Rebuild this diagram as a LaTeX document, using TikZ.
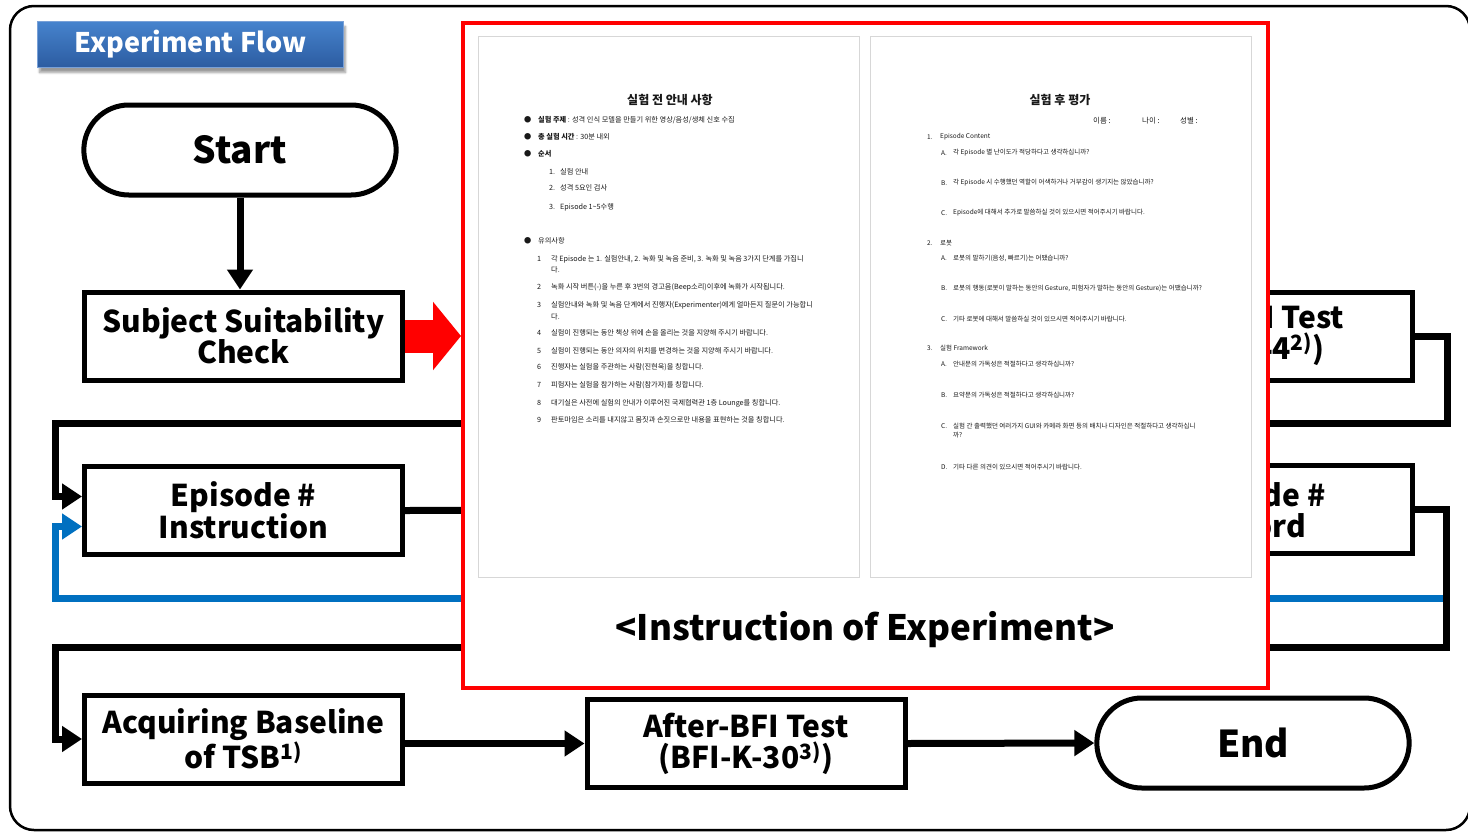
\documentclass[tikz,border=0pt]{standalone}
\usepackage{fontspec}
\setmainfont{Noto Sans CJK KR}
\usetikzlibrary{shapes.misc, arrows.meta, positioning, calc, shadows.blur}
\definecolor{loopblue}{RGB}{0, 112, 192}
\definecolor{titletop}{RGB}{70, 131, 206}
\definecolor{titlebottom}{RGB}{44, 92, 160}
\definecolor{titleline}{RGB}{120, 160, 215}
\definecolor{calloutred}{RGB}{255, 0, 0}
\definecolor{pageline}{RGB}{215, 215, 215}
\definecolor{doctext}{RGB}{25, 25, 25}

\begin{document}
\begin{tikzpicture}[
    x=1pt, y=-1pt,
    stepbox/.style={rectangle, draw=black, line width=5pt, fill=white,
                    minimum width=318pt, minimum height=88pt, align=center,
                    font=\bfseries\fontsize{30}{31}\selectfont},
    terminal/.style={rounded rectangle, draw=black, line width=5pt, fill=white,
                     minimum width=319pt, minimum height=90pt,
                     font=\bfseries\fontsize{37}{40}\selectfont},
    flow/.style={line width=7pt, -{Triangle[length=20pt, width=25pt]}},
    plain/.style={line width=7pt},
    callout/.style={line width=33pt, calloutred, -{Triangle[length=28pt, width=67pt]}},
    pagebox/.style={rectangle, draw=pageline, line width=1pt, fill=white,
                    minimum width=381pt, minimum height=541pt},
    doctitle/.style={font=\bfseries\fontsize{12}{12}\selectfont, text=doctext},
    docline/.style={anchor=west, inner sep=0pt, text=doctext,
                    font=\fontsize{7.2}{8}\selectfont},
    formline/.style={docline, font=\fontsize{6.5}{7}\selectfont}
]
\useasboundingbox (0,0) rectangle (1468,833);

% Frame and heading
\draw[line width=2.5pt, rounded corners=24pt] (10,6) rectangle (1470,830);
\node[rectangle, draw=titleline, line width=1pt, top color=titletop, bottom color=titlebottom,
      minimum width=306pt, minimum height=46pt, text=white,
      font=\bfseries\fontsize{27}{30}\selectfont,
      blur shadow={shadow xshift=2pt, shadow yshift=-5pt, shadow blur steps=8}]
      (heading) at (190.5,44.5) {Experiment Flow};

% Flow steps
\node[terminal] (start) at (240,150) {Start};
\node[stepbox] (subj) at (243.5,336) {Subject Suitability\\Check};
\node[stepbox] (pre) at (1253,336) {Pre-BFI Test\\(BFI-44\textsuperscript{2)})};
\node[stepbox] (epi) at (243.5,510.5) {Episode \#\\Instruction};
\node[stepbox] (rec) at (1253,509.5) {Episode \#\\Record};
\node[stepbox] (acq) at (243.5,739) {Acquiring Baseline\\of TSB\textsuperscript{1)}};
\node[stepbox] (after) at (746,743.5) {After-BFI Test\\(BFI-K-30\textsuperscript{3)})};
\node[terminal] (end) at (1253,743) {End};

% Rails for the returns on the left and right
\coordinate (railx) at (55,0);
\coordinate (back1) at (1447,423);
\coordinate (back2) at (1446,647);
\coordinate (loop) at (1446,598);

% Arrows
\draw[flow] (start.south) -- (start.south |- subj.north);
\draw[flow, loopblue] (loop) -- (railx |- loop) |- ($(epi.west)+(0,16)$);
\draw[flow] (pre.east) -| (back1) -- (railx |- back1) |- ($(epi.west)+(0,-14)$);
\draw[plain] (epi.east) -- (rec.west);
\draw[flow] (rec.east) -| (back2) -- (railx |- back2) |- (acq.west);
\draw[flow] (acq.east |- after.west) -- (after.west);
\draw[flow] (after.east) -- (end.west);

% Instruction sheets
\node[rectangle, draw=calloutred, line width=4pt, fill=white,
      minimum width=805pt, minimum height=665pt] (inset) at (865.5,355.5) {};
\draw[callout] (subj.east) -- (subj.east -| inset.west);
\node[pagebox] (page1) at (669,307) {};
\node[pagebox] (page2) at (1060.5,307) {};
\node[font=\bfseries\fontsize{35}{37}\selectfont] (caption) at (865,630)
      {<Instruction of Experiment>};

% Sheet 1: before the experiment
\node[doctitle] (t1) at (670,100) {실험 전 안내 사항};
\foreach \y/\txt in {120/{{\bfseries 실험 주제} : 성격 인식 모델을 만들기 위한 영상/음성/생체 신호 수집},
                     137/{{\bfseries 총 실험 시간} : 30분 내외},
                     154/{{\bfseries 순서}},
                     241/{유의사항}}{
  \node[docline] (dot\y) at (524,\y) {●};
  \node[docline] (b\y) at (538,\y) {\txt};
}
\foreach \n/\y/\txt in {1./172/실험 안내, 2./188/성격 5요인 검사, 3./207/Episode 1\textasciitilde5수행}{
  \node[docline] (on\y) at (549,\y) {\n};
  \node[docline] (o\y) at (560,\y) {\txt};
}
\foreach \n/\y/\txt in {1/259/{각 Episode 는 1. 실험안내, 2. 녹화 및 녹음 준비, 3. 녹화 및 녹음 3가지 단계를 가집니},
                        2/287/{녹화 시작 버튼(-)을 누른 후 3번의 경고음(Beep소리)이후에 녹화가 시작됩니다.},
                        3/305/{실험안내와 녹화 및 녹음 단계에서 진행자(Experimenter)에게 얼마든지 질문이 가능합니},
                        4/333/{실험이 진행되는 동안 책상 위에 손을 올리는 것을 지양해 주시기 바랍니다.},
                        5/351/{실험이 진행되는 동안 의자의 위치를 변경하는 것을 지양해 주시기 바랍니다.},
                        6/367/{진행자는 실험을 주관하는 사람(진현욱)을 칭합니다.},
                        7/385/{피험자는 실험을 참가하는 사람(참가자)를 칭합니다.},
                        8/403/{대기실은 사전에 실험의 안내가 이루어진 국제협력관 1층 Lounge를 칭합니다.},
                        9/420/{판토마임은 소리를 내지않고 몸짓과 손짓으로만 내용을 표현하는 것을 칭합니다.}}{
  \node[docline] (un\y) at (537,\y) {\n};
  \node[docline] (u\y) at (551,\y) {\txt};
}
\node[docline] (u270) at (551,270) {다.};
\node[docline] (u317) at (551,317) {다.};

% Sheet 2: after the experiment
\node[doctitle] (t2) at (1060,100) {실험 후 평가};
\node[docline, font=\fontsize{7.5}{8}\selectfont] (name) at (1093,121) {이름 :};
\node[docline, font=\fontsize{7.5}{8}\selectfont] (age) at (1142,121) {나이 :};
\node[docline, font=\fontsize{7.5}{8}\selectfont] (sex) at (1180,121) {성별 :};
\foreach \n/\y/\txt in {1./137/Episode Content, 2./243/로봇, 3./348/실험 Framework}{
  \node[formline] (sn\y) at (927,\y) {\n};
  \node[formline] (s\y) at (940,\y) {\txt};
}
\foreach \n/\y/\txt in {A./153/{각 Episode 별 난이도가 적당하다고 생각하십니까?},
                        B./183/{각 Episode 시 수행했던 역할이 어색하거나 거부감이 생기지는 않았습니까?},
                        C./213/{Episode에 대해서 추가로 말씀하실 것이 있으시면 적어주시기 바랍니다.},
                        A./258/{로봇의 말하기(음성, 빠르기)는 어땠습니까?},
                        B./288/{로봇의 행동(로봇이 말하는 동안의 Gesture, 피험자가 말하는 동안의 Gesture)는 어땠습니까?},
                        C./319/{기타 로봇에 대해서 말씀하실 것이 있으시면 적어주시기 바랍니다.},
                        A./364/{안내문의 가독성은 적절하다고 생각하십니까?},
                        B./395/{요약문의 가독성은 적절하다고 생각하십니까?},
                        C./426/{실험 간 출력했던 여러가지 GUI와 카메라 화면 등의 배치나 디자인은 적절하다고 생각하십니},
                        D./467/{기타 다른 의견이 있으시면 적어주시기 바랍니다.}}{
  \node[formline] (qn\y) at (941,\y) {\n};
  \node[formline] (q\y) at (953,\y) {\txt};
}
\node[formline] (q435) at (953,435) {까?};

\end{tikzpicture}
\end{document}
